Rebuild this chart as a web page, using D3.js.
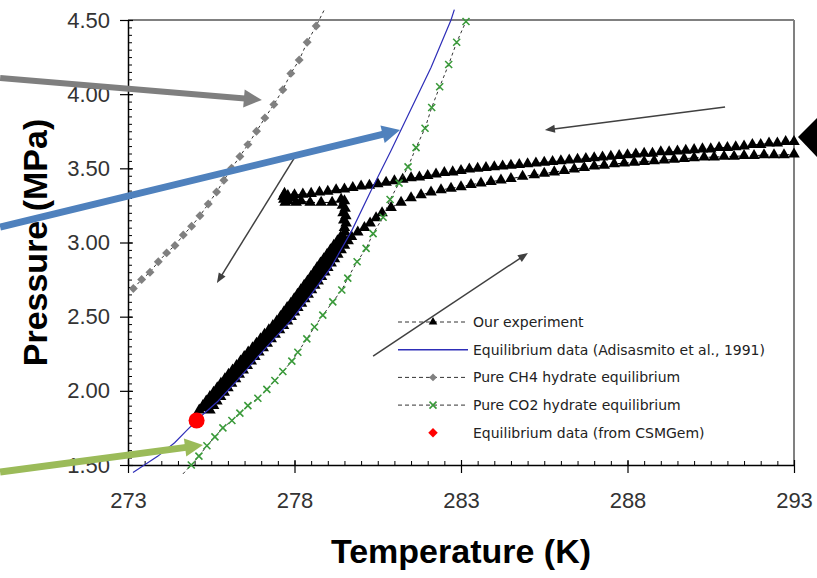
<!DOCTYPE html>
<html>
<head>
<meta charset="utf-8">
<script src="https://cdn.jsdelivr.net/npm/d3@7"></script>
<style>
  body { margin: 0; background: #fff; }
  svg { display: block; font-family: "Liberation Sans", Arial, sans-serif; }
</style>
</head>
<body>
<div id="chart"></div>
<script>
// axis ticks
const X_TICKS = [273, 278, 283, 288, 293];
const Y_TICKS = [1.5, 2.0, 2.5, 3.0, 3.5, 4.0, 4.5];

// Pure CH4 hydrate equilibrium [T (K), P (MPa)]
const ch4Data = [
  [273.16, 2.69], [273.41, 2.75], [273.66, 2.80], [273.91, 2.87], [274.16, 2.93],
  [274.41, 2.98], [274.66, 3.05], [274.91, 3.11], [275.16, 3.18], [275.41, 3.26],
  [275.66, 3.34], [275.88, 3.42], [276.11, 3.50], [276.36, 3.58], [276.60, 3.66],
  [276.86, 3.75], [277.11, 3.84], [277.38, 3.93], [277.65, 4.03], [277.89, 4.14],
  [278.14, 4.23], [278.38, 4.35], [278.65, 4.46], [278.92, 4.58]
];

// Pure CO2 hydrate equilibrium
const co2Data = [
  [274.65, 1.44], [274.90, 1.50], [275.13, 1.56], [275.37, 1.63], [275.61, 1.69],
  [275.85, 1.75], [276.12, 1.80], [276.36, 1.85], [276.60, 1.90], [276.90, 1.95],
  [277.17, 2.01], [277.41, 2.07], [277.65, 2.13], [277.92, 2.20], [278.10, 2.26],
  [278.37, 2.35], [278.60, 2.43], [278.85, 2.51], [279.15, 2.60], [279.42, 2.68],
  [279.60, 2.76], [279.88, 2.87], [280.15, 2.96], [280.36, 3.06], [280.66, 3.17],
  [280.87, 3.29], [281.14, 3.40], [281.41, 3.51], [281.65, 3.64], [281.92, 3.77],
  [282.12, 3.91], [282.36, 4.05], [282.63, 4.20], [282.87, 4.35], [283.15, 4.49]
];

// Equilibrium data (Adisasmito et al., 1991)
const adisData = [
  [273.15, 1.45], [273.90, 1.56], [274.40, 1.65], [274.75, 1.73], [275.20, 1.83],
  [275.70, 1.93], [276.28, 2.07], [276.86, 2.22], [277.47, 2.37], [277.88, 2.47],
  [278.47, 2.64], [279.09, 2.83], [279.72, 3.08], [280.30, 3.35], [280.90, 3.62],
  [281.50, 3.90], [282.10, 4.18], [282.70, 4.50], [282.80, 4.57]
];

// Equilibrium data (from CSMGem)
const csmData = [[275.06, 1.80]];

// Our experiment: cooling at high pressure (right to left)
const expCooling = [
  [293.00, 3.680], [292.75, 3.680], [292.50, 3.670], [292.25, 3.670], [292.00, 3.660],
  [291.75, 3.660], [291.50, 3.650], [291.25, 3.645], [291.00, 3.640], [290.75, 3.640],
  [290.50, 3.630], [290.25, 3.630], [290.00, 3.625], [289.75, 3.620], [289.50, 3.615],
  [289.25, 3.610], [289.00, 3.610], [288.75, 3.600], [288.50, 3.600], [288.25, 3.595],
  [288.00, 3.590], [287.75, 3.585], [287.50, 3.580], [287.25, 3.575], [287.00, 3.570],
  [286.75, 3.565], [286.50, 3.560], [286.25, 3.555], [286.00, 3.550], [285.75, 3.545],
  [285.50, 3.540], [285.25, 3.535], [285.00, 3.530], [284.75, 3.525], [284.50, 3.520],
  [284.25, 3.515], [284.00, 3.510], [283.75, 3.505], [283.50, 3.500], [283.25, 3.495],
  [283.00, 3.485], [282.75, 3.475], [282.50, 3.470], [282.25, 3.460], [282.00, 3.450],
  [281.75, 3.440], [281.50, 3.435], [281.25, 3.425], [281.00, 3.415], [280.75, 3.405],
  [280.50, 3.395], [280.25, 3.385], [280.00, 3.380], [279.75, 3.370], [279.50, 3.360],
  [279.25, 3.355], [279.00, 3.345], [278.75, 3.340], [278.50, 3.330], [278.25, 3.325],
  [278.00, 3.320], [277.80, 3.315]
];

// Our experiment: hydrate onset (pressure drop, temperature jump)
const expOnset = [
  [277.70, 3.33], [277.66, 3.31], [277.68, 3.29], [277.72, 3.27], [277.82, 3.28],
  [277.95, 3.30], [278.05, 3.27], [278.20, 3.28], [278.47, 3.27], [278.80, 3.27],
  [279.13, 3.27], [279.40, 3.29], [279.50, 3.28], [279.44, 3.25], [279.52, 3.23],
  [279.46, 3.20], [279.54, 3.18], [279.48, 3.15], [279.55, 3.13], [279.50, 3.10],
  [279.52, 3.07]
];

// Our experiment: cooling down along the hydrate line (scattered readings)
const expFormation = [
  [279.39, 3.040], [279.50, 3.025], [279.29, 3.010], [279.40, 2.995],
  [279.18, 2.980], [279.29, 2.965], [279.08, 2.950], [279.19, 2.935],
  [278.98, 2.920], [279.09, 2.905], [278.88, 2.890], [278.99, 2.875],
  [278.78, 2.860], [278.89, 2.845], [278.68, 2.830], [278.80, 2.815],
  [278.59, 2.800], [278.70, 2.785], [278.49, 2.770], [278.60, 2.755],
  [278.39, 2.740], [278.50, 2.725], [278.29, 2.710], [278.40, 2.695],
  [278.19, 2.680], [278.30, 2.665], [278.09, 2.650], [278.20, 2.635],
  [277.99, 2.620], [278.10, 2.605], [277.89, 2.590], [278.00, 2.575],
  [277.78, 2.560], [277.89, 2.545], [277.68, 2.530], [277.79, 2.515],
  [277.58, 2.500], [277.69, 2.485], [277.47, 2.470], [277.57, 2.455],
  [277.35, 2.440], [277.45, 2.425], [277.23, 2.410], [277.33, 2.395],
  [277.10, 2.380], [277.20, 2.365], [276.98, 2.350], [277.08, 2.335],
  [276.86, 2.320], [276.96, 2.305], [276.74, 2.290], [276.84, 2.275],
  [276.61, 2.260], [276.71, 2.245], [276.49, 2.230], [276.60, 2.215],
  [276.38, 2.200], [276.48, 2.185], [276.26, 2.170], [276.36, 2.155],
  [276.14, 2.140], [276.24, 2.125], [276.02, 2.110], [276.13, 2.095],
  [275.91, 2.080], [276.01, 2.065], [275.79, 2.050], [275.90, 2.035],
  [275.68, 2.020], [275.79, 2.005], [275.57, 1.990], [275.68, 1.975],
  [275.46, 1.960], [275.57, 1.945], [275.35, 1.930], [275.46, 1.915],
  [275.25, 1.900], [275.36, 1.885], [275.14, 1.870]
];

// Our experiment: heating back up (dissociation)
const expDissociation = [
  [275.46, 1.87], [275.57, 1.90], [275.67, 1.93], [275.78, 1.96], [275.89, 1.99],
  [276.00, 2.02], [276.11, 2.05], [276.23, 2.08], [276.34, 2.11], [276.46, 2.14],
  [276.58, 2.17], [276.70, 2.20], [276.81, 2.23], [276.93, 2.26], [277.06, 2.29],
  [277.18, 2.32], [277.30, 2.35], [277.42, 2.38], [277.55, 2.41], [277.67, 2.44],
  [277.79, 2.47], [277.90, 2.50], [278.00, 2.53], [278.10, 2.56], [278.21, 2.59],
  [278.31, 2.62], [278.41, 2.65], [278.51, 2.68], [278.61, 2.71], [278.71, 2.74],
  [278.81, 2.77], [278.91, 2.80], [279.00, 2.83], [279.10, 2.86], [279.20, 2.89],
  [279.30, 2.92], [279.40, 2.95], [279.50, 2.98], [279.61, 3.01], [279.71, 3.04]
];

// Our experiment: heating to the starting temperature
const expHeating = [
  [279.90, 3.070], [280.10, 3.100], [280.27, 3.130], [280.45, 3.165], [280.63, 3.200],
  [280.90, 3.235], [281.20, 3.270], [281.50, 3.300], [281.80, 3.320], [282.10, 3.340],
  [282.40, 3.355], [282.70, 3.365], [283.00, 3.375], [283.30, 3.390], [283.60, 3.400],
  [283.90, 3.410], [284.20, 3.420], [284.50, 3.430], [284.85, 3.445], [285.20, 3.455],
  [285.50, 3.465], [285.80, 3.475], [286.10, 3.485], [286.40, 3.495], [286.70, 3.505],
  [287.00, 3.515], [287.30, 3.520], [287.60, 3.530], [287.90, 3.535], [288.20, 3.540],
  [288.50, 3.545], [288.80, 3.550], [289.10, 3.555], [289.40, 3.560], [289.70, 3.565],
  [290.00, 3.570], [290.30, 3.575], [290.60, 3.575], [290.90, 3.580], [291.20, 3.580],
  [291.50, 3.585], [291.80, 3.585], [292.10, 3.590], [292.40, 3.590], [292.70, 3.590],
  [293.00, 3.595]
];

const expData = [...expCooling, ...expOnset, ...expFormation, ...expDissociation, ...expHeating];

// annotation arrows, [T, P] from -> to
const thickArrows = [
  { from: [269.16, 4.109], to: [277.02, 3.961], color: "#7f7f7f", width: 6 },
  { from: [269.16, 3.104], to: [281.17, 3.758], color: "#4f81bd", width: 7 },
  { from: [269.16, 1.452], to: [275.25, 1.634], color: "#9bbb59", width: 7 }
];
const thinArrows = [
  { from: [278.01, 3.576], to: [275.67, 2.727] },
  { from: [290.93, 3.913], to: [285.52, 3.758] },
  { from: [280.36, 2.234], to: [285.01, 2.929] }
];
const edgePointer = [[293.12, 3.711], [293.69, 3.839], [293.69, 3.576]];

const LEGEND = [
  { label: "Our experiment", marker: "triangle", dashed: true },
  { label: "Equilibrium data (Adisasmito et al., 1991)", marker: null, blue: true },
  { label: "Pure CH4 hydrate equilibrium", marker: "diamond", dashed: true },
  { label: "Pure CO2 hydrate equilibrium", marker: "cross", dashed: true },
  { label: "Equilibrium data (from CSMGem)", marker: "red" }
];

const width = 817, height = 578;
const margin = { top: 20, right: 23, bottom: 113, left: 128 };

const svg = d3.select("#chart").append("svg")
  .attr("width", width)
  .attr("height", height);

const x = d3.scaleLinear().domain([273, 293]).range([margin.left, width - margin.right]);
const y = d3.scaleLinear().domain([1.5, 4.5]).range([height - margin.bottom, margin.top]);

const plotBottom = height - margin.bottom;
const plotRight = width - margin.right;

// frame (top and right)
svg.append("line")
  .attr("x1", margin.left).attr("x2", plotRight)
  .attr("y1", margin.top).attr("y2", margin.top)
  .attr("stroke", "#808080").attr("stroke-width", 2);
svg.append("line")
  .attr("x1", plotRight).attr("x2", plotRight)
  .attr("y1", margin.top).attr("y2", plotBottom)
  .attr("stroke", "#808080").attr("stroke-width", 2);

const styleAxis = g => {
  g.select(".domain").attr("stroke", "#000").attr("stroke-width", 1.5);
  g.selectAll(".tick line").attr("stroke", "#000").attr("stroke-width", 1.2);
  g.selectAll(".tick text")
    .attr("fill", "#333")
    .style("font-size", "22px")
    .style("font-family", "'Liberation Sans', Arial, sans-serif");
};

// y axis
svg.append("g")
  .attr("transform", `translate(${margin.left},0)`)
  .call(d3.axisRight(y).tickValues(d3.range(1.5, 4.501, 0.05)).tickSize(4).tickFormat(""))
  .call(g => g.select(".domain").remove())
  .call(g => g.selectAll(".tick line").attr("stroke", "#000"));
svg.append("g")
  .attr("transform", `translate(${margin.left},0)`)
  .call(d3.axisRight(y).tickValues(Y_TICKS).tickSize(5).tickFormat(""))
  .call(g => g.select(".domain").remove())
  .call(g => g.selectAll(".tick line").attr("stroke", "#000").attr("stroke-width", 1.2));
svg.append("g")
  .attr("transform", `translate(${margin.left},0)`)
  .call(d3.axisLeft(y).tickValues(Y_TICKS).tickSize(8).tickSizeOuter(0).tickPadding(10).tickFormat(d3.format(".2f")))
  .call(styleAxis);

// x axis
svg.append("g")
  .attr("transform", `translate(0,${plotBottom})`)
  .call(d3.axisTop(x).tickValues(d3.range(273, 293.01, 0.5)).tickSize(4).tickFormat(""))
  .call(g => g.select(".domain").remove())
  .call(g => g.selectAll(".tick line").attr("stroke", "#000"));
svg.append("g")
  .attr("transform", `translate(0,${plotBottom})`)
  .call(d3.axisTop(x).tickValues(X_TICKS).tickSize(5).tickFormat(""))
  .call(g => g.select(".domain").remove())
  .call(g => g.selectAll(".tick line").attr("stroke", "#000").attr("stroke-width", 1.2));
svg.append("g")
  .attr("transform", `translate(0,${plotBottom})`)
  .call(d3.axisBottom(x).tickValues(X_TICKS).tickSize(8).tickSizeOuter(0).tickPadding(19).tickFormat(d3.format("d")))
  .call(styleAxis);

// axis titles
svg.append("text")
  .attr("x", (margin.left + plotRight) / 2)
  .attr("y", 563)
  .attr("text-anchor", "middle")
  .style("font-size", "34px")
  .style("font-weight", "bold")
  .text("Temperature (K)");
svg.append("text")
  .attr("transform", `translate(47,${(margin.top + plotBottom) / 2}) rotate(-90)`)
  .attr("text-anchor", "middle")
  .style("font-size", "34px")
  .style("font-weight", "bold")
  .text("Pressure (MPa)");

// markers
const triangleSymbol = d3.symbol(d3.symbolTriangle, 58);
const diamondSymbol = d3.symbol(d3.symbolSquare, 40);
const addMarker = (g, type) => {
  if (type === "triangle") {
    g.append("path").attr("d", d3.symbol(d3.symbolTriangle, 32)()).attr("fill", "#000");
  } else if (type === "diamond") {
    g.append("path").attr("d", d3.symbol(d3.symbolSquare, 30)()).attr("transform", "rotate(45)").attr("fill", "#808080");
  } else if (type === "cross") {
    g.append("path").attr("d", "M-3.5,-3.5L3.5,3.5M-3.5,3.5L3.5,-3.5")
      .attr("stroke", "#3a9a3a").attr("stroke-width", 1.6).attr("fill", "none");
  } else if (type === "red") {
    g.append("path").attr("d", d3.symbol(d3.symbolSquare, 45)()).attr("transform", "rotate(45)").attr("fill", "#f00");
  }
};

const line = d3.line().x(d => x(d[0])).y(d => y(d[1]));
const inPlot = d => d[1] >= 1.5 && d[1] <= 4.5 && d[0] >= 273 && d[0] <= 293.3;

// Our experiment
svg.append("path")
  .attr("d", line(expData))
  .attr("fill", "none")
  .attr("stroke", "#000")
  .attr("stroke-width", 1)
  .attr("stroke-dasharray", "4,3");
svg.append("g")
  .selectAll("path")
  .data(expData.filter(inPlot))
  .enter()
  .append("path")
  .attr("d", triangleSymbol())
  .attr("transform", d => `translate(${x(d[0])},${y(d[1])})`)
  .attr("fill", "#000");

// Adisasmito equilibrium line
svg.append("path")
  .attr("d", line(adisData))
  .attr("fill", "none")
  .attr("stroke", "#2e2eb8")
  .attr("stroke-width", 1.2);

// pure CH4
svg.append("path")
  .attr("d", line(ch4Data))
  .attr("fill", "none")
  .attr("stroke", "#333")
  .attr("stroke-width", 1)
  .attr("stroke-dasharray", "3,3");
svg.append("g")
  .selectAll("path")
  .data(ch4Data.filter(inPlot))
  .enter()
  .append("path")
  .attr("d", diamondSymbol())
  .attr("transform", d => `translate(${x(d[0])},${y(d[1])}) rotate(45)`)
  .attr("fill", "#808080");

// pure CO2
svg.append("path")
  .attr("d", line(co2Data))
  .attr("fill", "none")
  .attr("stroke", "#333")
  .attr("stroke-width", 1)
  .attr("stroke-dasharray", "3,3");
svg.append("g")
  .selectAll("path")
  .data(co2Data.filter(inPlot))
  .enter()
  .append("path")
  .attr("d", "M-3.5,-3.5L3.5,3.5M-3.5,3.5L3.5,-3.5")
  .attr("transform", d => `translate(${x(d[0])},${y(d[1])})`)
  .attr("stroke", "#3a9a3a")
  .attr("stroke-width", 1.6)
  .attr("fill", "none");

// CSMGem point
svg.append("g")
  .selectAll("circle")
  .data(csmData)
  .enter()
  .append("circle")
  .attr("cx", d => x(d[0]))
  .attr("cy", d => y(d[1]))
  .attr("r", 8)
  .attr("fill", "#f00");

// legend
const legend = svg.append("g").attr("transform", "translate(398,322)");
LEGEND.forEach((item, i) => {
  const row = legend.append("g").attr("transform", `translate(0,${i * 27.7})`);
  if (item.dashed) {
    row.append("line").attr("x1", 0).attr("x2", 70).attr("y1", 0).attr("y2", 0)
      .attr("stroke", "#333").attr("stroke-width", 1).attr("stroke-dasharray", "4,3");
  }
  if (item.blue) {
    row.append("line").attr("x1", 0).attr("x2", 70).attr("y1", 0).attr("y2", 0)
      .attr("stroke", "#2e2eb8").attr("stroke-width", 1.5);
  }
  if (item.marker) {
    addMarker(row.append("g").attr("transform", "translate(35,0)"), item.marker);
  }
  row.append("text")
    .attr("x", 75)
    .attr("y", 5)
    .attr("fill", "#222")
    .style("font-family", "'DejaVu Sans', sans-serif")
    .style("font-size", "14px")
    .text(item.label);
});

// annotation arrows
const drawArrow = (from, to, color, w, headLen, headHalf) => {
  const x1 = x(from[0]), y1 = y(from[1]), x2 = x(to[0]), y2 = y(to[1]);
  const ang = Math.atan2(y2 - y1, x2 - x1);
  const bx = x2 - headLen * Math.cos(ang), by = y2 - headLen * Math.sin(ang);
  svg.append("line")
    .attr("x1", x1).attr("y1", y1).attr("x2", bx + Math.cos(ang)).attr("y2", by + Math.sin(ang))
    .attr("stroke", color).attr("stroke-width", w);
  const px = -Math.sin(ang) * headHalf, py = Math.cos(ang) * headHalf;
  svg.append("path")
    .attr("d", `M${x2},${y2}L${bx + px},${by + py}L${bx - px},${by - py}Z`)
    .attr("fill", color);
};

thinArrows.forEach(a => drawArrow(a.from, a.to, "#404040", 1.5, 10, 4));
thickArrows.forEach(a => drawArrow(a.from, a.to, a.color, a.width, 18, 9));

svg.append("path")
  .attr("d", d3.line().x(d => x(d[0])).y(d => y(d[1]))(edgePointer) + "Z")
  .attr("fill", "#000");
</script>
</body>
</html>
